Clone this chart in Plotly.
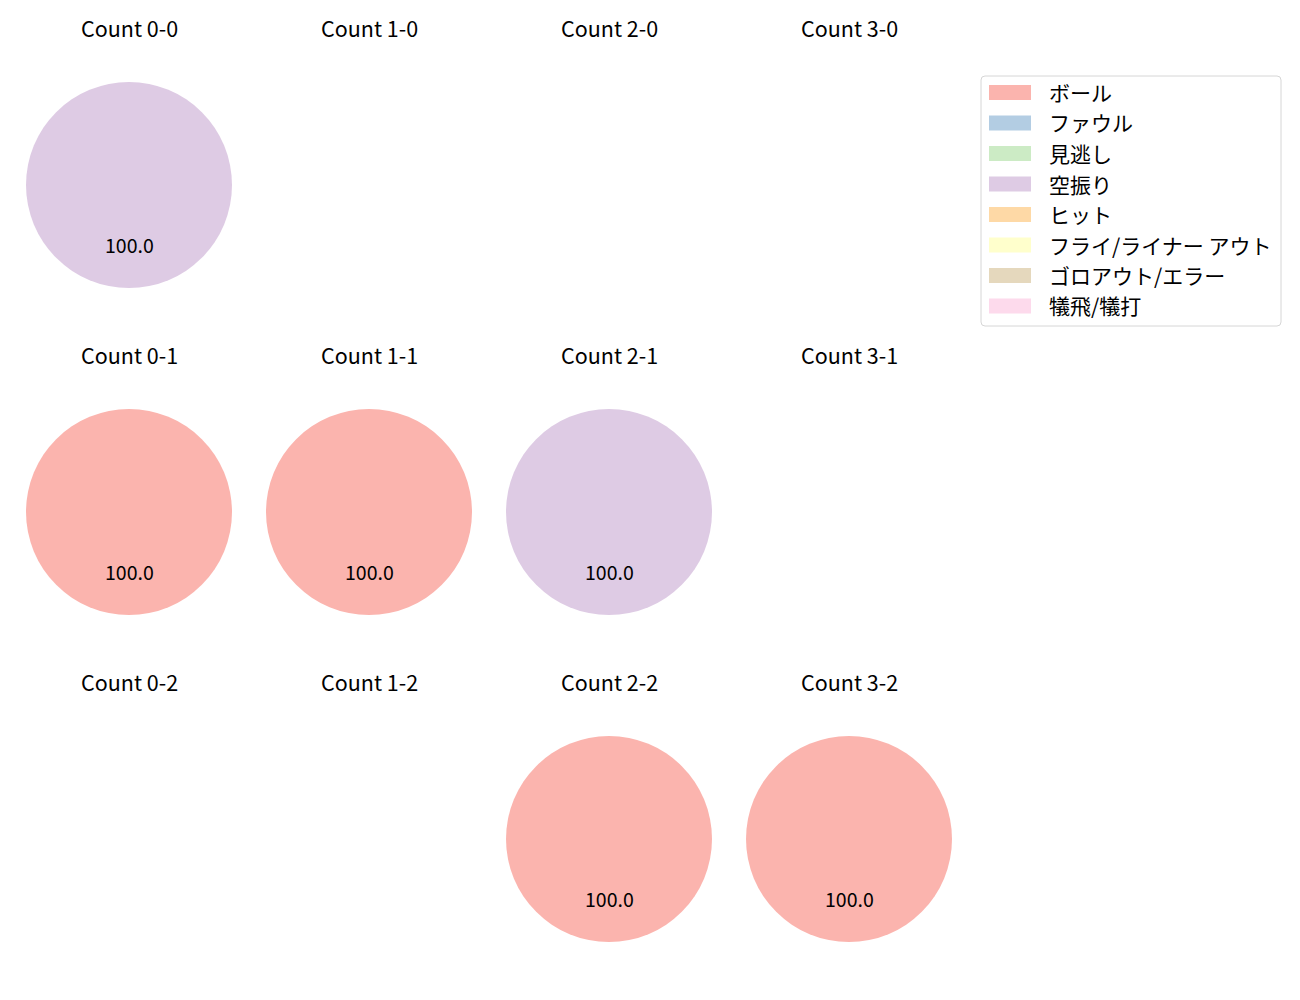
import math
import plotly.graph_objects as go

# ---- data ----
labels = ["ボール", "ファウル", "見逃し", "空振り", "ヒット",
          "フライ/ライナー アウト", "ゴロアウト/エラー", "犠飛/犠打"]
colors = ["#fbb4ae", "#b3cde3", "#ccebc5", "#decbe4", "#fed9a6",
          "#ffffcc", "#e5d8bd", "#fddaec"]
counts = ["0-0", "1-0", "2-0", "3-0",
          "0-1", "1-1", "2-1", "3-1",
          "0-2", "1-2", "2-2", "3-2"]
ball        = [0, 0, 0, 0, 100, 100, 0, 0, 0, 0, 100, 100]
foul        = [0] * 12
looking     = [0] * 12
swinging    = [100, 0, 0, 0, 0, 0, 100, 0, 0, 0, 0, 0]
hit         = [0] * 12
fly_out     = [0] * 12
grounder    = [0] * 12
sacrifice   = [0] * 12
series = [ball, foul, looking, swinging, hit, fly_out, grounder, sacrifice]

# page offset (body margin) is 8px; figure size chosen to fit the window
OFF = 8
W, H = 1284, 984
FONT = "Noto Sans CJK JP"
col_cx = [129, 369, 609, 849]
row_cy = [185, 512, 839]
title_dy = 157
R = 103


def px(x):
    return (x - OFF) / W


def py(y):
    return 1 - (y - OFF) / H


fig = go.Figure()
annotations = []
shapes = []
for i, cnt in enumerate(counts):
    r, c = divmod(i, 4)
    cx, cy = col_cx[c], row_cy[r]
    vals = [s[i] for s in series]
    fig.add_trace(go.Pie(
        labels=labels, values=vals, sort=False, direction="counterclockwise",
        rotation=90, marker=dict(colors=colors, line=dict(width=0)),
        textinfo="none", hoverinfo="label+percent", showlegend=False,
        domain=dict(x=[px(cx - R), px(cx + R)], y=[py(cy + R), py(cy - R)]),
    ))
    annotations.append(dict(text=f"Count {cnt}", x=px(cx), y=py(cy - title_dy - 0.5),
                            xref="paper", yref="paper", showarrow=False,
                            xanchor="center", yanchor="middle",
                            font=dict(family=FONT, size=21.5, color="#000")))
    total = sum(vals)
    if total > 0:
        start = 90.0
        for v in vals:
            if v <= 0:
                continue
            frac = v / total
            mid = start + frac * 360 / 2
            start += frac * 360
            tx = cx + 0.6 * R * math.cos(math.radians(mid))
            ty = cy - 0.6 * R * math.sin(math.radians(mid))
            annotations.append(dict(text=f"{frac * 100:.1f}", x=px(tx), y=py(ty - 2),
                                    xref="paper", yref="paper", showarrow=False,
                                    xanchor="center", yanchor="middle",
                                    font=dict(family=FONT, size=19.5, color="#000")))

# ---- legend (drawn manually to match swatch shapes and spacing) ----
lx0, lx1, ly0, ly1, rad = 981, 1281, 76, 326, 4
path = (f"M {px(lx0 + rad)},{py(ly0)} L {px(lx1 - rad)},{py(ly0)} "
        f"Q {px(lx1)},{py(ly0)} {px(lx1)},{py(ly0 + rad)} "
        f"L {px(lx1)},{py(ly1 - rad)} Q {px(lx1)},{py(ly1)} {px(lx1 - rad)},{py(ly1)} "
        f"L {px(lx0 + rad)},{py(ly1)} Q {px(lx0)},{py(ly1)} {px(lx0)},{py(ly1 - rad)} "
        f"L {px(lx0)},{py(ly0 + rad)} Q {px(lx0)},{py(ly0)} {px(lx0 + rad)},{py(ly0)} Z")
shapes.append(dict(type="path", path=path, xref="paper", yref="paper",
                   line=dict(color="#d6d6d6", width=1), fillcolor="rgba(255,255,255,0.8)",
                   layer="above"))
item_y0, item_step = 92.5, 30.5
for k, (lab, col) in enumerate(zip(labels, colors)):
    yc = item_y0 + k * item_step
    shapes.append(dict(type="rect", xref="paper", yref="paper",
                       x0=px(989), x1=px(1031), y0=py(yc - 7.5), y1=py(yc + 7.5),
                       fillcolor=col, line=dict(width=0), layer="above"))
    annotations.append(dict(text=lab, x=px(1047), y=py(yc - 0.5), xref="paper", yref="paper",
                            showarrow=False, xanchor="left", yanchor="middle",
                            font=dict(family=FONT, size=21, color="#000")))

fig.update_layout(
    width=W, height=H,
    margin=dict(l=0, r=0, t=0, b=0),
    paper_bgcolor="white", plot_bgcolor="white",
    font=dict(family=FONT, size=16, color="#000"),
    annotations=annotations,
    shapes=shapes,
    showlegend=False,
)
fig.write_html("out.html")
